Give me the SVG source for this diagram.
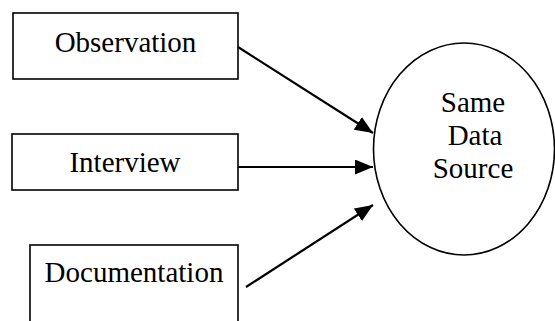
<svg xmlns="http://www.w3.org/2000/svg" width="555" height="321" viewBox="0 0 555 321">
<style>
.box{fill:#fff;stroke:#000;stroke-width:1.6}
.lbl{font-size:29px;fill:#000;text-anchor:middle}
.conn{stroke:#000;stroke-width:2.2;fill:none}
</style>
<defs>
<marker id="ah" markerUnits="userSpaceOnUse" markerWidth="19" markerHeight="15" refX="18" refY="7.5" orient="auto">
<path d="M0,0 L18,7.5 L0,15 z" fill="#000"/>
</marker>
</defs>
<rect width="555" height="321" fill="#fff"/>
<g id="observation">
<rect class="box" x="13" y="13" width="225" height="66"/>
<text class="lbl" font-family="Liberation Serif" x="125.5" y="52">Observation</text>
</g>
<g id="interview">
<rect class="box" x="12" y="134" width="226" height="56"/>
<text class="lbl" font-family="Times New Roman" x="125" y="172">Interview</text>
</g>
<g id="documentation">
<rect class="box" x="30" y="245" width="208" height="100"/>
<text class="lbl" font-family="Liberation Serif" x="134" y="282">Documentation</text>
</g>
<g id="same-data-source">
<ellipse class="box" cx="464" cy="149" rx="90.5" ry="106"/>
<text class="lbl" font-family="Times New Roman" x="473" y="112">Same</text>
<text class="lbl" font-family="Liberation Serif" x="475" y="145">Data</text>
<text class="lbl" font-family="Times New Roman" x="473" y="178">Source</text>
</g>
<g id="connectors">
<line class="conn" x1="238" y1="47" x2="373" y2="133" marker-end="url(#ah)"/>
<line class="conn" x1="238" y1="167" x2="373" y2="167" marker-end="url(#ah)"/>
<line class="conn" x1="246" y1="287" x2="373" y2="205" marker-end="url(#ah)"/>
</g>
</svg>
